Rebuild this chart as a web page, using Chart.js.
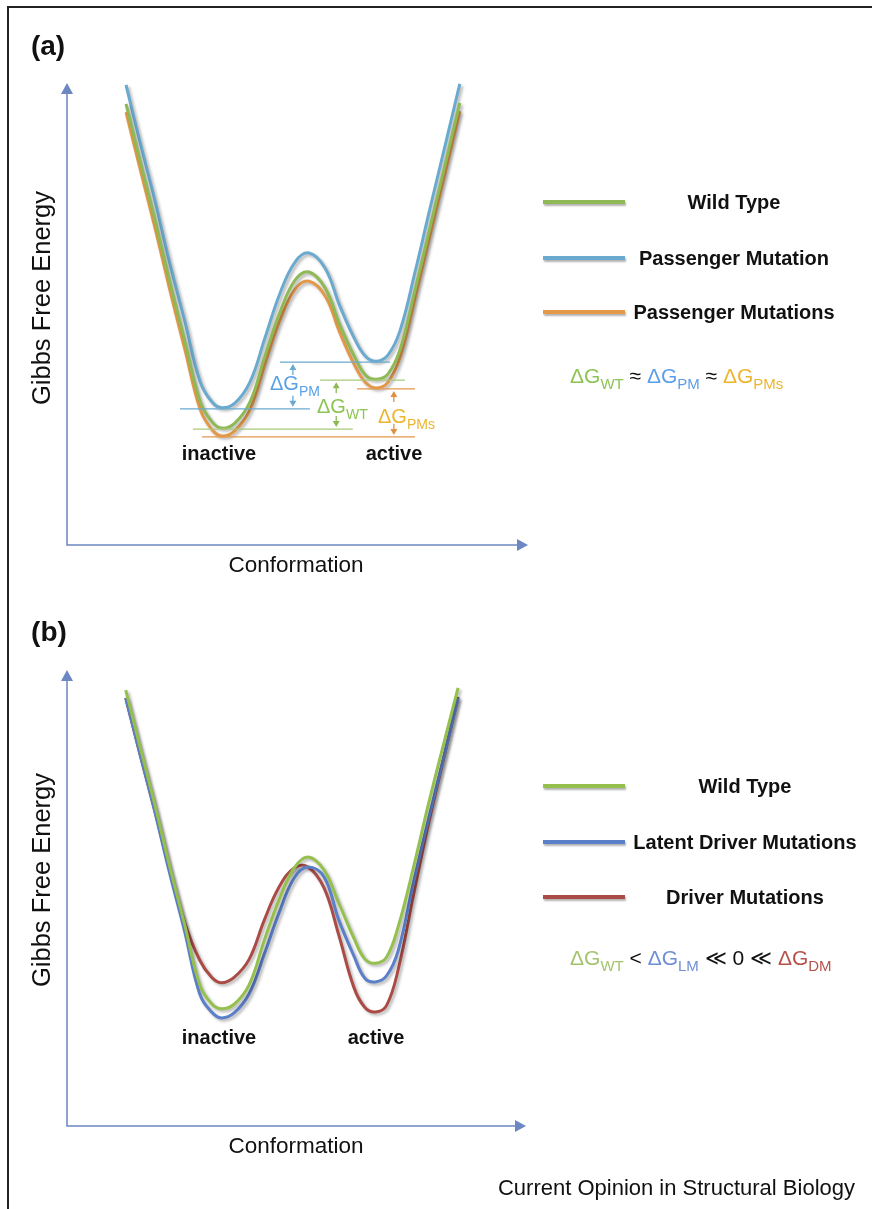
<!DOCTYPE html>
<html>
<head>
<meta charset="utf-8">
<script src="https://cdn.jsdelivr.net/npm/chart.js@4.4.1/dist/chart.umd.min.js"></script>
<style>
body{margin:0;width:872px;height:1209px;position:relative;overflow:hidden;background:#fff;font-family:Helvetica,Arial,"Liberation Sans",sans-serif;color:#111}
#frame{position:absolute;left:7px;top:6px;right:-10px;bottom:-10px;border-top:2px solid #222;border-left:2px solid #222}
canvas{position:absolute;left:0}
.t{position:absolute;white-space:nowrap;line-height:1;transform:translate(-50%,-50%)}
.l{position:absolute;white-space:nowrap;line-height:1;transform:translate(0,-50%)}
.b{font-weight:bold}
.dg{font-size:20px}
.dg span{font-size:14px;position:relative;top:6px}
.eq{font-size:21px}
.eq span{font-size:15px;position:relative;top:6px}
.eq b{font-weight:normal}
.sw{position:absolute;height:4px;width:82px;box-shadow:1px 2px 2px rgba(0,0,0,.3)}
</style>
</head>
<body>
<div id="frame"></div>
<canvas id="chart-a" width="872" height="600" style="top:0"></canvas>
<canvas id="chart-b" width="872" height="609" style="top:600px"></canvas>

<div class="t b" style="left:48px;top:46px;font-size:28px">(a)</div>
<div class="t b" style="left:49px;top:632px;font-size:28px">(b)</div>
<div class="t" style="left:42px;top:298px;font-size:25.5px;transform:translate(-50%,-50%) rotate(-90deg)">Gibbs Free Energy</div>
<div class="t" style="left:42px;top:880px;font-size:25.5px;transform:translate(-50%,-50%) rotate(-90deg)">Gibbs Free Energy</div>
<div class="t" style="left:296px;top:565px;font-size:22.5px">Conformation</div>
<div class="t" style="left:296px;top:1146px;font-size:22.5px">Conformation</div>
<div class="l" style="right:17px;top:1188px;font-size:22px">Current Opinion in Structural Biology</div>

<div class="t b" style="left:219px;top:453px;font-size:20px">inactive</div>
<div class="t b" style="left:394px;top:453px;font-size:20px">active</div>
<div class="t b" style="left:219px;top:1037px;font-size:20px">inactive</div>
<div class="t b" style="left:376px;top:1037px;font-size:20px">active</div>

<div class="l dg" style="left:270px;top:383px;color:#5aa0e6">ΔG<span>PM</span></div>
<div class="l dg" style="left:317px;top:406px;color:#8dc453">ΔG<span>WT</span></div>
<div class="l dg" style="left:378px;top:416px;color:#ecb52e">ΔG<span>PMs</span></div>

<div class="l eq" style="left:570px;top:375px">
  <b style="color:#8dc453">ΔG<span>WT</span></b> ≈
  <b style="color:#5b9fe8">ΔG<span>PM</span></b> ≈
  <b style="color:#ecb52e">ΔG<span>PMs</span></b>
</div>
<div class="l eq" style="left:570px;top:957px">
  <b style="color:#a3c46d">ΔG<span>WT</span></b> &lt;
  <b style="color:#6f8ed4">ΔG<span>LM</span></b> ≪ 0 ≪
  <b style="color:#b5524c">ΔG<span>DM</span></b>
</div>

<script>
// conformation coordinate (shared by all curves)
const xs = [12.8, 15.8, 19.1, 22.3, 25.6, 28.9, 31.5, 33.6, 36.4, 39.7, 43.0, 46.2, 49.5,
            52.5, 56.0, 59.2, 62.5, 64.9, 67.2, 69.6, 72.2, 75.5, 78.7, 82.0, 85.2];

// panel (a) free energy
const wtA  = [95.5, 83.3, 70.3, 56.9, 43.9, 31.0, 26.6, 25.3, 26.4, 31.0, 41.1, 50.4, 57.4,
              59.1, 55.6, 47.6, 40.5, 36.6, 35.9, 37.0, 42.2, 55.2, 68.6, 82.3, 95.7];
const pmA  = [99.6, 87.4, 74.5, 61.0, 48.3, 35.3, 30.9, 29.7, 30.7, 35.3, 45.0, 54.5, 61.3,
              63.2, 59.9, 51.7, 44.4, 40.7, 39.8, 41.1, 46.3, 59.1, 72.7, 86.4, 99.8];
const pmsA = [93.7, 81.6, 68.6, 55.2, 42.2, 29.3, 24.9, 23.6, 24.7, 29.3, 39.4, 48.7, 55.4,
              57.1, 53.9, 45.9, 38.7, 35.0, 34.0, 35.2, 40.5, 53.5, 66.9, 80.5, 93.9];

// panel (b) free energy
const wtB  = [95.6, 83.6, 70.6, 57.2, 44.3, 31.0, 26.8, 25.7, 26.7, 31.0, 40.8, 49.6, 56.6,
              59.0, 56.1, 48.9, 41.2, 36.6, 35.7, 37.0, 43.9, 56.8, 70.4, 83.6, 96.1];
const lmB  = [93.9, 82.0, 69.1, 55.7, 42.8, 29.0, 25.0, 23.7, 24.8, 29.0, 37.7, 46.7, 54.4,
              56.8, 54.6, 45.2, 37.3, 32.4, 31.6, 32.9, 38.6, 53.5, 67.1, 80.5, 93.9];
const dmB  = [93.9, 82.0, 69.3, 56.4, 44.7, 36.4, 32.6, 31.4, 32.6, 36.6, 45.2, 52.4, 56.6,
              56.8, 52.2, 41.9, 30.4, 26.0, 25.0, 26.4, 34.5, 50.7, 66.0, 80.3, 94.1];

const namesA  = ['Wild Type', 'Passenger Mutation', 'Passenger Mutations'];
const colorsA = ['#8fb955', '#6aaacf', '#e3984a'];
const namesB  = ['Wild Type', 'Latent Driver Mutations', 'Driver Mutations'];
const colorsB = ['#96c04e', '#5b7fc9', '#ab4b46'];

const axisColor = '#6c87c2';

const toPoints = ys => xs.map((x, i) => ({ x: x, y: ys[i] }));

// axis lines with arrow heads
const axesArrows = {
    id: 'axesArrows',
    beforeDatasetsDraw(chart) {
        const ctx = chart.ctx, a = chart.chartArea;
        ctx.save();
        ctx.strokeStyle = axisColor;
        ctx.fillStyle = axisColor;
        ctx.lineWidth = 1.5;
        ctx.beginPath();
        ctx.moveTo(a.left, a.top + 8);
        ctx.lineTo(a.left, a.bottom);
        ctx.lineTo(a.right - 8, a.bottom);
        ctx.stroke();
        ctx.beginPath();
        ctx.moveTo(a.left, a.top);
        ctx.lineTo(a.left - 6, a.top + 11);
        ctx.lineTo(a.left + 6, a.top + 11);
        ctx.fill();
        ctx.beginPath();
        ctx.moveTo(a.right, a.bottom);
        ctx.lineTo(a.right - 11, a.bottom - 6);
        ctx.lineTo(a.right - 11, a.bottom + 6);
        ctx.fill();
        ctx.restore();
    }
};

// soft grey drop shadow under each curve
const curveShadow = {
    id: 'curveShadow',
    beforeDatasetDraw(chart) {
        const ctx = chart.ctx;
        ctx.save();
        ctx.shadowColor = 'rgba(0,0,0,0.3)';
        ctx.shadowBlur = 3;
        ctx.shadowOffsetX = 2;
        ctx.shadowOffsetY = 2;
    },
    afterDatasetDraw(chart) {
        chart.ctx.restore();
    }
};

// delta G level lines and arrows, levels taken from the curve minima
const dgMarks = {
    id: 'dgMarks',
    afterDatasetsDraw(chart, args, opts) {
        if (!opts.marks) return;
        const ctx = chart.ctx, sx = chart.scales.x, sy = chart.scales.y;
        const head = (x, y, dir) => {
            ctx.beginPath();
            ctx.moveTo(x, y);
            ctx.lineTo(x - 3.5, y + dir * 6);
            ctx.lineTo(x + 3.5, y + dir * 6);
            ctx.fill();
        };
        opts.marks.forEach(m => {
            const pts = chart.data.datasets[m.ds].data;
            const lo = Math.min(...pts.filter(p => p.x < 50).map(p => p.y));
            const hi = Math.min(...pts.filter(p => p.x > 55).map(p => p.y));
            const yLo = sy.getPixelForValue(lo) + 1, yHi = sy.getPixelForValue(hi) + 1;
            ctx.save();
            ctx.strokeStyle = m.line;
            ctx.lineWidth = 1.2;
            ctx.beginPath();
            ctx.moveTo(sx.getPixelForValue(m.loSpan[0]), yLo);
            ctx.lineTo(sx.getPixelForValue(m.loSpan[1]), yLo);
            ctx.moveTo(sx.getPixelForValue(m.hiSpan[0]), yHi);
            ctx.lineTo(sx.getPixelForValue(m.hiSpan[1]), yHi);
            ctx.stroke();
            const ax = sx.getPixelForValue(m.arrowX);
            ctx.strokeStyle = m.arrow;
            ctx.fillStyle = m.arrow;
            ctx.lineWidth = 1.3;
            ctx.beginPath();
            ctx.moveTo(ax, yHi + 4);
            ctx.lineTo(ax, yHi + 13);
            ctx.moveTo(ax, yLo - 13);
            ctx.lineTo(ax, yLo - 4);
            ctx.stroke();
            head(ax, yHi + 2, 1);
            head(ax, yLo - 2, -1);
            ctx.restore();
        });
    }
};

function makeChart(id, series, names, colors, padding, marks) {
    return new Chart(document.getElementById(id).getContext('2d'), {
        type: 'line',
        data: {
            datasets: series.map((s, i) => ({
                label: names[i],
                data: toPoints(s),
                borderColor: colors[i],
                borderWidth: 3,
                pointRadius: 0,
                tension: 0.4,
                clip: false
            }))
        },
        options: {
            responsive: false,
            animation: false,
            layout: { padding: padding },
            plugins: {
                legend: { display: false },
                tooltip: { enabled: false },
                dgMarks: { marks: marks }
            },
            scales: {
                x: { type: 'linear', min: 0, max: 100, display: false },
                y: { min: 0, max: 100, display: false }
            }
        },
        plugins: [axesArrows, curveShadow, dgMarks]
    });
}

makeChart('chart-a', [wtA, pmA, pmsA], namesA, colorsA,
    { left: 67, top: 83, right: 344, bottom: 55 },
    [
        { ds: 1, line: '#6aaacf', arrow: '#6aaacf', loSpan: [24.5, 52.7], hiSpan: [46.2, 70.1], arrowX: 49.0 },
        { ds: 0, line: '#a9c97c', arrow: '#8dba55', loSpan: [27.3, 62.0], hiSpan: [54.9, 73.3], arrowX: 58.4 },
        { ds: 2, line: '#e3984a', arrow: '#e0913f', loSpan: [29.3, 75.5], hiSpan: [62.9, 75.5], arrowX: 70.9 }
    ]);

makeChart('chart-b', [wtB, lmB, dmB], namesB, colorsB,
    { left: 67, top: 70, right: 346, bottom: 83 },
    null);

// legends built from the series names and colours
function legend(names, colors, rows, textX) {
    names.forEach((n, i) => {
        const sw = document.createElement('div');
        sw.className = 'sw';
        sw.style.left = '543px';
        sw.style.top = (rows[i] - 2) + 'px';
        sw.style.background = colors[i];
        document.body.appendChild(sw);
        const t = document.createElement('div');
        t.className = 't b';
        t.style.left = textX + 'px';
        t.style.top = rows[i] + 'px';
        t.style.fontSize = '20px';
        t.textContent = n;
        document.body.appendChild(t);
    });
}
legend(namesA, colorsA, [202, 258, 312], 734);
legend(namesB, colorsB, [786, 842, 897], 745);
</script>
</body>
</html>
